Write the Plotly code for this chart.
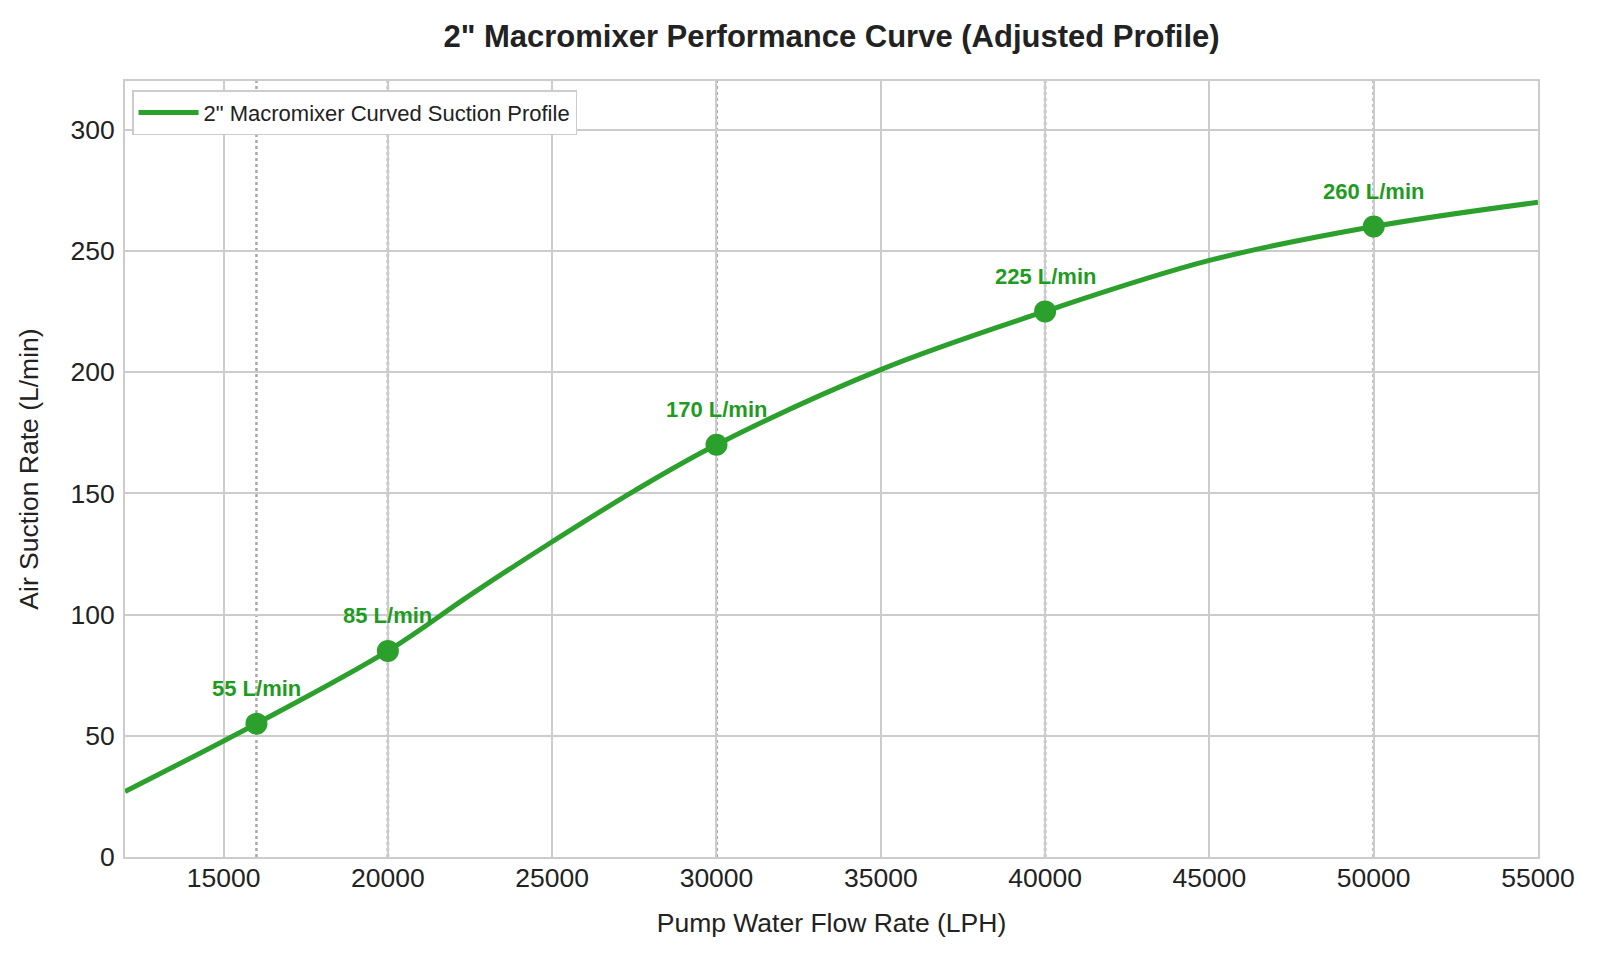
import plotly.graph_objects as go

# Key measured points
flow_points = [16000, 20000, 30000, 40000, 50000]
air_points = [55, 85, 170, 225, 260]
point_labels = ["55 L/min", "85 L/min", "170 L/min", "225 L/min", "260 L/min"]

# Curve values
curve_flow = [12000, 16000, 20000, 22500, 25000, 27500, 30000, 35000, 40000, 45000, 50000, 55000]
curve_air = [27, 55, 85, 108, 130, 151, 170, 201, 225, 246, 260, 270]

x_ticks = [15000, 20000, 25000, 30000, 35000, 40000, 45000, 50000, 55000]
y_ticks = [0, 50, 100, 150, 200, 250, 300]

LINE_GREEN = "#2ca02c"
TEXT_GREEN = "#1f9c1f"
FONT = "Liberation Sans, Arial, sans-serif"

fig = go.Figure()

fig.add_trace(go.Scatter(
    x=curve_flow, y=curve_air, mode="lines",
    line=dict(color=LINE_GREEN, width=5, shape="spline", smoothing=1.0),
    name='2" Macromixer Curved Suction Profile',
))

fig.add_trace(go.Scatter(
    x=flow_points, y=air_points, mode="markers",
    marker=dict(color=LINE_GREEN, size=22),
    showlegend=False, hoverinfo="skip",
))

shapes = []
for i, xv in enumerate(flow_points):
    shapes.append(dict(
        type="line", xref="x", yref="paper", x0=xv, x1=xv, y0=0, y1=1,
        line=dict(color="#a8a8a8" if i == 0 else "#8c8c8c", width=2.5, dash="dot"),
        layer="below",
    ))

annotations = []
for xv, yv, t in zip(flow_points, air_points, point_labels):
    annotations.append(dict(
        x=xv, y=yv, xref="x", yref="y", text=f"<b>{t}</b>", showarrow=False,
        yshift=35, font=dict(family=FONT, size=22, color=TEXT_GREEN),
    ))

fig.update_layout(
    width=1600, height=960,
    margin=dict(l=117, r=70, t=73, b=111),
    paper_bgcolor="white", plot_bgcolor="white",
    font=dict(family=FONT, color="#222222"),
    title=dict(
        text='<b>2" Macromixer Performance Curve (Adjusted Profile)</b>',
        xref="paper", x=0.5, xanchor="center", y=1 - 28 / 960, yanchor="middle",
        font=dict(family=FONT, size=31, color="#222222"),
    ),
    xaxis=dict(
        range=[12000, 55000], tickvals=x_ticks, ticktext=[str(v) for v in x_ticks],
        showgrid=True, gridcolor="#cccccc", gridwidth=1.5,
        showline=True, linecolor="#cccccc", linewidth=2, mirror=True,
        zeroline=False, ticks="", ticklabelstandoff=-4,
        tickfont=dict(family=FONT, size=26.5, color="#222222"),
        title=dict(text="Pump Water Flow Rate (LPH)", standoff=22,
                   font=dict(family=FONT, size=26.5, color="#222222")),
    ),
    yaxis=dict(
        range=[0, 320], tickvals=y_ticks,
        showgrid=True, gridcolor="#cccccc", gridwidth=1.5,
        showline=True, linecolor="#cccccc", linewidth=2, mirror=True,
        zeroline=False, ticks="", ticklabelstandoff=3,
        tickfont=dict(family=FONT, size=26.5, color="#222222"),
        title=dict(text="Air Suction Rate (L/min)", standoff=24,
                   font=dict(family=FONT, size=26.5, color="#222222")),
    ),
    legend=dict(
        x=0.005, y=0.988, xanchor="left", yanchor="top",
        bgcolor="white", bordercolor="#cccccc", borderwidth=1.5,
        itemwidth=60,
        font=dict(family=FONT, size=22, color="#222222"),
    ),
    shapes=shapes,
    annotations=annotations,
)

fig.write_html("out.html")
